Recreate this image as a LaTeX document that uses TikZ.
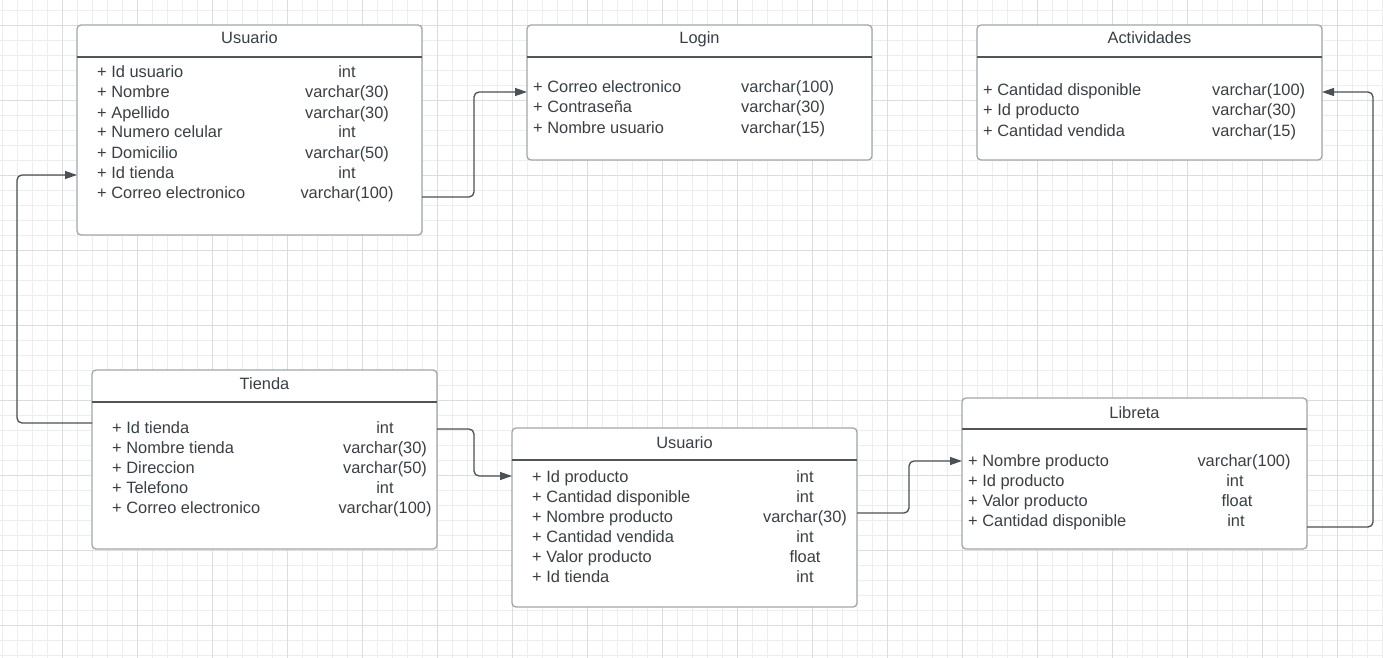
\documentclass[tikz,border=0pt]{standalone}
\usepackage{fontspec}
\setmainfont{Liberation Sans}
\usetikzlibrary{arrows.meta,calc}

\definecolor{ink}{HTML}{3A3F45}
\definecolor{frame}{HTML}{A2A6AA}
\definecolor{rulecol}{HTML}{4F555B}
\definecolor{wire}{HTML}{4A5057}
\definecolor{gridminor}{HTML}{EDEDED}
\definecolor{gridmajor}{HTML}{DDDDDD}

\begin{document}
\begin{tikzpicture}[x=1pt,y=-1pt,
  table/.style={draw=frame, line width=1.3pt, rounded corners=4pt, fill=white,
    inner sep=0pt, outer sep=0pt, anchor=north west},
  headrule/.style={draw=rulecol, line width=1.3pt},
  txt/.style={font=\fontsize{16.4}{20}\selectfont, text=ink, inner sep=0pt},
  conn/.style={draw=wire, line width=1.3pt, rounded corners=5pt,
    -{Triangle[length=12pt,width=8pt]}}
]
\useasboundingbox (0,0) rectangle (1383,658);
\fill[white] (0,0) rectangle (1383,658);

% background grid: fine lines every 15, stronger lines every 75
\foreach \k in {0,...,92} {
  \draw[gridminor, line width=0.9pt] ({2+15*\k},0) -- ({2+15*\k},658);
}
\foreach \k in {0,...,43} {
  \draw[gridminor, line width=0.9pt] (0,{10+15*\k}) -- (1383,{10+15*\k});
}
\foreach \k in {0,...,18} {
  \draw[gridmajor, line width=0.9pt] ({62+75*\k},0) -- ({62+75*\k},658);
}
\foreach \k in {0,...,8} {
  \draw[gridmajor, line width=0.9pt] (0,{25+75*\k}) -- (1383,{25+75*\k});
}

% tables
\node[table, minimum width=345pt, minimum height=210pt] (usr)    at (77,25)   {};
\node[table, minimum width=345pt, minimum height=135pt] (login)  at (527,25)  {};
\node[table, minimum width=345pt, minimum height=135pt] (act)    at (977,25)  {};
\node[table, minimum width=345pt, minimum height=179pt] (tienda) at (92,370)  {};
\node[table, minimum width=345pt, minimum height=179pt] (usr2)   at (512,428) {};
\node[table, minimum width=345pt, minimum height=151pt] (lib)    at (962,398) {};

% header separators
\foreach \t in {usr,login,act,tienda,usr2} {
  \draw[headrule] ($(\t.north west)+(0,32)$) -- ($(\t.north east)+(0,32)$);
}
\draw[headrule] ($(lib.north west)+(0,31)$) -- ($(lib.north east)+(0,31)$);

% titles
\node[txt, anchor=base] (usrT)    at (249.5,44)  {Usuario};
\node[txt, anchor=base] (loginT)  at (699.5,44)  {Login};
\node[txt, anchor=base] (actT)    at (1149.5,44) {Actividades};
\node[txt, anchor=base] (tiendaT) at (264.5,389) {Tienda};
\node[txt, anchor=base] (usr2T)   at (684.5,448) {Usuario};
\node[txt, anchor=base] (libT)    at (1134.5,418) {Libreta};

% Usuario
\foreach \f/\t [count=\i from 0] in {Id usuario/int, Nombre/varchar(30),
    Apellido/varchar(30), Numero celular/int, Domicilio/varchar(50),
    Id tienda/int, Correo electronico/varchar(100)} {
  \node[txt, anchor=base west] (usrF\i) at (97,{78+20*\i}) {+ \f};
  \node[txt, anchor=base] (usrY\i) at (347,{78+20*\i}) {\t};
}

% Login
\foreach \f/\t [count=\i from 0] in {Correo electronico/varchar(100),
    Contraseña/varchar(30), Nombre usuario/varchar(15)} {
  \node[txt, anchor=base west] (loginF\i) at (533,{93+20*\i}) {+ \f};
  \node[txt, anchor=base west] (loginY\i) at (741,{93+20*\i}) {\t};
}

% Actividades
\foreach \f/\t [count=\i from 0] in {Cantidad disponible/varchar(100),
    Id producto/varchar(30), Cantidad vendida/varchar(15)} {
  \node[txt, anchor=base west] (actF\i) at (983,{96+20*\i}) {+ \f};
  \node[txt, anchor=base west] (actY\i) at (1212,{96+20*\i}) {\t};
}

% Tienda
\foreach \f/\t [count=\i from 0] in {Id tienda/int, Nombre tienda/varchar(30),
    Direccion/varchar(50), Telefono/int, Correo electronico/varchar(100)} {
  \node[txt, anchor=base west] (tiendaF\i) at (112,{433+20*\i}) {+ \f};
  \node[txt, anchor=base] (tiendaY\i) at (385,{433+20*\i}) {\t};
}

% Usuario (productos)
\foreach \f/\t [count=\i from 0] in {Id producto/int, Cantidad disponible/int,
    Nombre producto/varchar(30), Cantidad vendida/int, Valor producto/float,
    Id tienda/int} {
  \node[txt, anchor=base west] (usr2F\i) at (532,{482+20*\i}) {+ \f};
  \node[txt, anchor=base] (usr2Y\i) at (805,{482+20*\i}) {\t};
}

% Libreta
\foreach \f/\t/\x [count=\i from 0] in {Nombre producto/varchar(100)/1244,
    Id producto/int/1235, Valor producto/float/1237, Cantidad disponible/int/1236} {
  \node[txt, anchor=base west] (libF\i) at (968,{466+20*\i}) {+ \f};
  \node[txt, anchor=base] (libY\i) at (\x,{466+20*\i}) {\t};
}

% connectors
\draw[conn] ($(usr.north east)+(0,172)$) -- ++(52,0) |- ($(login.north west)+(0,67)$);
\draw[conn] ($(tienda.north west)+(0,53)$) -- ++(-75,0) |- ($(usr.north west)+(0,150)$);
\draw[conn] ($(tienda.north east)+(0,59)$) -- ++(37,0) |- ($(usr2.north west)+(0,48)$);
\draw[conn] ($(usr2.north east)+(0,85)$) -- ++(52,0) |- ($(lib.north west)+(0,63)$);
\draw[conn] ($(lib.north east)+(0,129)$) -- ++(66,0) |- ($(act.north east)+(0,67)$);
\end{tikzpicture}
\end{document}
